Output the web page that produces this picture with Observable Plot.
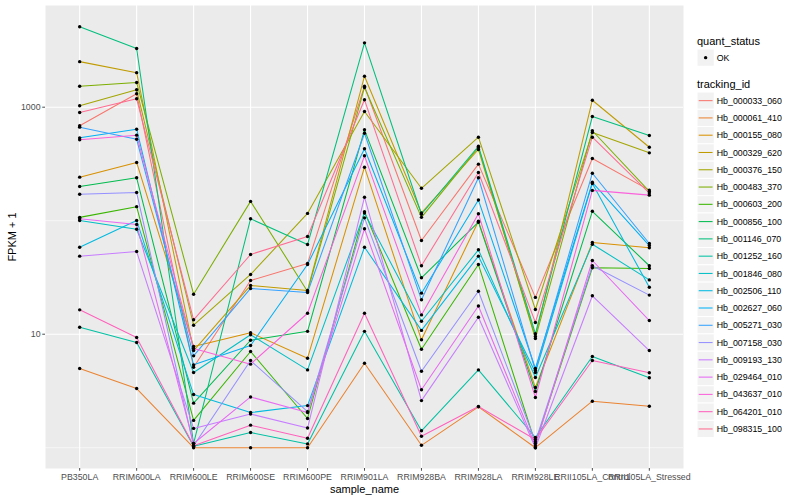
<!DOCTYPE html>
<html>
<head>
<meta charset="utf-8">
<script src="https://cdn.jsdelivr.net/npm/d3@7"></script>
<script src="https://cdn.jsdelivr.net/npm/@observablehq/plot@0.6"></script>
<style>
  html, body { margin: 0; padding: 0; background: #ffffff; }
  #wrap { position: relative; width: 800px; height: 500px; font-family: "Liberation Sans", Arial, Helvetica, sans-serif; }
  #legend { position: absolute; left: 0; top: 0; pointer-events: none; }
</style>
</head>
<body>
<div id="wrap"><div id="chart"></div><svg id="legend" width="800" height="500"></svg></div>
<script>
const samples = ["PB350LA","RRIM600LA","RRIM600LE","RRIM600SE","RRIM600PE","RRIM901LA","RRIM928BA","RRIM928LA","RRIM928LE","RRII105LA_Control","RRII105LA_Stressed"];
const trackingIds = ["Hb_000033_060","Hb_000061_410","Hb_000155_080","Hb_000329_620","Hb_000376_150","Hb_000483_370","Hb_000603_200","Hb_000856_100","Hb_001146_070","Hb_001252_160","Hb_001846_080","Hb_002506_110","Hb_002627_060","Hb_005271_030","Hb_007158_030","Hb_009193_130","Hb_029464_010","Hb_043637_010","Hb_064201_010","Hb_098315_100"];
const trackingColors = ["#F8766D","#EA8331","#D89000","#C09B00","#A3A500","#7CAE00","#39B600","#00BB4E","#00BF7D","#00C1A3","#00BFC4","#00BAE0","#00B0F6","#35A2FF","#9590FF","#C77CFF","#E76BF3","#FA62DB","#FF62BC","#FF6C91"];
const yTicks = [10, 1000];
const yMinorGrid = [1, 100];

// FPKM + 1 per sample (order of samples)
const Hb_000033_060 = [686, 1312, 5.12, 29.7, 42.0, 1531, 67.0, 315, 21.1, 353, 186];
const Hb_000061_410 = [4.99, 3.32, 1.0, 1.0, 1.0, 5.55, 1.05, 2.29, 1.0, 2.57, 2.32];
const Hb_000155_080 = [242, 326, 7.80, 10.3, 6.15, 296, 8.93, 99, 3.39, 64.3, 57.7];
const Hb_000329_620 = [2520, 2015, 7.18, 26.9, 24.3, 1875, 117, 424, 9.55, 1152, 444];
const Hb_000376_150 = [1029, 1423, 12.0, 33.6, 116, 917, 193, 544, 16.5, 598, 396];
const Hb_000483_370 = [1531, 1650, 22.5, 148, 23.8, 1492, 107, 442, 9.17, 620, 181];
const Hb_000603_200 = [107, 133, 1.74, 7.04, 1.81, 120, 7.38, 41.1, 1.09, 38.5, 37.9];
const Hb_000856_100 = [200, 239, 2.47, 8.85, 10.6, 632, 31.4, 97, 3.13, 121, 40.1];
const Hb_001146_070 = [5110, 3290, 1.09, 104, 61.7, 3690, 114, 453, 10.1, 828, 563];
const Hb_001252_160 = [11.5, 8.46, 1.03, 1.36, 1.08, 10.6, 1.41, 4.85, 1.23, 6.36, 4.13];
const Hb_001846_080 = [100.5, 84.2, 4.60, 9.9, 4.85, 117, 13.0, 55.4, 4.16, 62.1, 30.1];
const Hb_002506_110 = [58.4, 100.5, 2.94, 2.04, 2.35, 58.4, 10.8, 48.7, 4.60, 213, 25.9];
const Hb_002627_060 = [537, 640, 5.37, 7.95, 41.1, 430, 23.0, 152, 4.99, 218, 60.4];
const Hb_005271_030 = [667, 522, 6.45, 25.3, 23.3, 590, 20.1, 239, 4.79, 262, 63.0];
const Hb_007158_030 = [171, 177, 1.04, 5.86, 2.08, 106, 4.72, 23.9, 1.13, 40.1, 22.1];
const Hb_009193_130 = [48.7, 53.5, 1.48, 1.98, 1.49, 161, 2.60, 14.1, 1.0, 21.8, 7.18];
const Hb_029464_010 = [104, 92.6, 1.09, 2.80, 2.04, 84.9, 3.24, 17.7, 1.04, 44.6, 13.2];
const Hb_043637_010 = [516, 567, 7.48, 5.45, 15.3, 373, 14.8, 115, 2.77, 185, 168];
const Hb_064201_010 = [16.4, 9.35, 1.04, 1.58, 1.21, 15.3, 1.26, 2.31, 1.18, 5.86, 4.57];
const Hb_098315_100 = [898, 1186, 13.4, 50.4, 72.6, 1162, 40.1, 266, 12.7, 544, 175];

const seriesValues = [Hb_000033_060, Hb_000061_410, Hb_000155_080, Hb_000329_620, Hb_000376_150, Hb_000483_370, Hb_000603_200, Hb_000856_100, Hb_001146_070, Hb_001252_160, Hb_001846_080, Hb_002506_110, Hb_002627_060, Hb_005271_030, Hb_007158_030, Hb_009193_130, Hb_029464_010, Hb_043637_010, Hb_064201_010, Hb_098315_100];

const rows = [];
trackingIds.forEach((id, i) => {
  samples.forEach((s, j) => rows.push({id, sample: s, value: seriesValues[i][j]}));
});

const font = '"Liberation Sans", Arial, Helvetica, sans-serif';

const chart = Plot.plot({
  width: 800,
  height: 500,
  marginLeft: 45,
  marginRight: 117,
  marginTop: 5,
  marginBottom: 32,
  style: {fontFamily: font, background: "#ffffff", overflow: "visible"},
  x: {type: "point", domain: samples, padding: 0.6, round: false},
  y: {type: "log", domain: [0.656, 7870]},
  color: {domain: trackingIds, range: trackingColors},
  marks: [
    Plot.frame({fill: "#EBEBEB", stroke: null}),
    Plot.gridY(yMinorGrid, {stroke: "#ffffff", strokeOpacity: 1, strokeWidth: 0.55}),
    Plot.gridY(yTicks, {stroke: "#ffffff", strokeOpacity: 1, strokeWidth: 1.1}),
    Plot.gridX(samples, {stroke: "#ffffff", strokeOpacity: 1, strokeWidth: 1.1}),
    Plot.line(rows, {x: "sample", y: "value", z: "id", stroke: "id", strokeWidth: 1.05}),
    Plot.dot(rows, {x: "sample", y: "value", r: 1.7, fill: "#000000", stroke: null}),
    Plot.axisY(yTicks, {label: null, tickSize: 2.75, tickPadding: 2.2, fontSize: 8.8, color: "#4D4D4D", tickFormat: d => String(d)}),
    Plot.axisX({label: null, tickSize: 2.75, tickPadding: 2.2, fontSize: 8.8, color: "#4D4D4D"}),
    Plot.text(["sample_name"], {frameAnchor: "bottom", dy: 21, fontSize: 11, fill: "#000000", lineAnchor: "middle"}),
    Plot.text(["FPKM + 1"], {frameAnchor: "left", dx: -33, rotate: -90, fontSize: 11, fill: "#000000", lineAnchor: "middle", textAnchor: "middle"})
  ]
});
document.getElementById("chart").appendChild(chart);

// legend (ggplot-style, right side)
const lg = d3.select("#legend").style("font-family", font);
const lx = 697, key = 17.28;
lg.append("text").attr("x", lx).attr("y", 44.5).attr("font-size", 11).attr("fill", "#000").text("quant_status");
lg.append("rect").attr("x", lx).attr("y", 49).attr("width", key).attr("height", key).attr("fill", "#F2F2F2").attr("stroke", "#fff");
lg.append("circle").attr("cx", lx + key / 2).attr("cy", 49 + key / 2).attr("r", 1.7).attr("fill", "#000");
lg.append("text").attr("x", lx + key + 2.5).attr("y", 49 + key / 2).attr("dy", "0.35em").attr("font-size", 8.8).attr("fill", "#000").text("OK");
lg.append("text").attr("x", lx).attr("y", 88).attr("font-size", 11).attr("fill", "#000").text("tracking_id");
const g = lg.selectAll("g.k").data(trackingIds).join("g").attr("transform", (d, i) => `translate(${lx},${92 + i * key})`);
g.append("rect").attr("width", key).attr("height", key).attr("fill", "#F2F2F2").attr("stroke", "#fff");
g.append("line").attr("x1", 1.7).attr("x2", key - 1.7).attr("y1", key / 2).attr("y2", key / 2).attr("stroke", (d, i) => trackingColors[i]).attr("stroke-width", 1.05);
g.append("text").attr("x", key + 2.5).attr("y", key / 2).attr("dy", "0.35em").attr("font-size", 8.8).attr("fill", "#000").text(d => d);
</script>
</body>
</html>
